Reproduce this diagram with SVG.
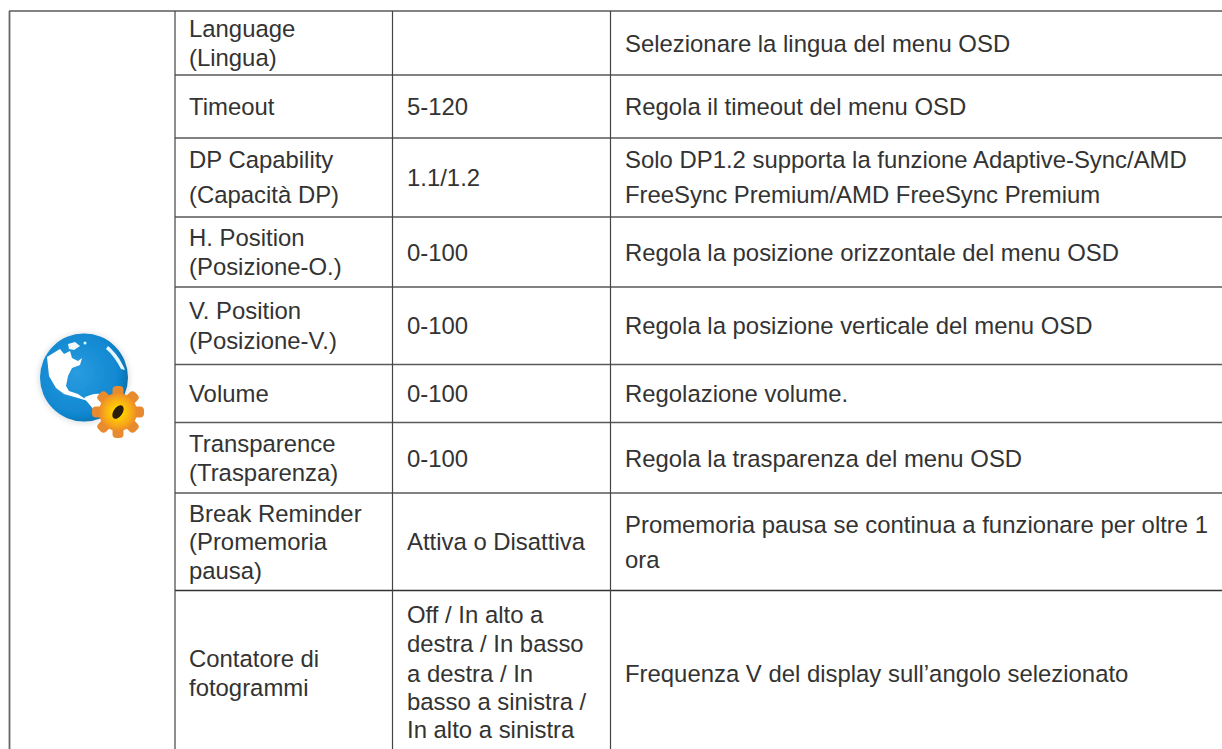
<svg xmlns="http://www.w3.org/2000/svg" width="1222" height="749" viewBox="0 0 1222 749">
<style>
text{font-family:"Liberation Sans",Arial,sans-serif;font-size:23.9px;fill:#333}
.h{stroke:#5a5a5a;stroke-width:1.4;fill:none}
.v{stroke:#444;stroke-width:1.2;fill:none}
.t{fill:#e88a2e}
</style>
<defs>
<radialGradient id="g" cx="0.42" cy="0.45" r="0.6"><stop offset="0" stop-color="#2a9ce0"/><stop offset="0.8" stop-color="#1087d0"/><stop offset="1" stop-color="#0b6ea8"/></radialGradient>
<radialGradient id="o" cx="0.5" cy="0.5" r="0.55"><stop offset="0.25" stop-color="#ffd000"/><stop offset="0.65" stop-color="#f7a81a"/><stop offset="1" stop-color="#e9822a"/></radialGradient>
<filter id="b" x="-10%" y="-10%" width="120%" height="120%"><feGaussianBlur stdDeviation="0.7"/></filter>
<filter id="s" x="-20%" y="-20%" width="140%" height="140%"><feGaussianBlur stdDeviation="2.500"/></filter>
</defs>
<rect width="1222" height="749" fill="#fff"/>
<g id="grid">
<path class="h" d="M9 11H1222"/><path class="h" d="M175 75H1222M175 138H1222M175 217H1222M175 287H1222M175 364.5H1222M175 422.5H1222M175 493H1222"/>
<path d="M175 590.500H1222" stroke="#333" stroke-width="1.300" fill="none"/>
<path d="M9.500 11V749" stroke="#666" stroke-width="1.800" fill="none"/>
<path class="v" d="M175 11V749M392.500 11V749M610.500 11V749"/>
</g>
<g id="icon">
<circle cx="84" cy="378" r="46" fill="#c9ccd0" opacity="0.5" filter="url(#s)"/>
<g filter="url(#b)">
<circle cx="84" cy="377.500" r="44" fill="url(#g)"/>
<path d="M47 357 55 352 60 349 64 354 70 351 72 358 78 361 82 358 80 365 72 368 68 376 66 386 69 391 78 394 88 401 78 398 64 394 56 388 49 376Z" fill="#fff"/>
<path d="M68 344 75 342 80 346 74 350 69 349Z" fill="#f0f8fd"/>
<path d="M84 398C90 394 100 392 106 396L104 412 94 410Z" fill="#fff"/>
<path d="M108 346C115 352 121 360 125 370L121 369C117 361 112 354 106 349Z" fill="#eaf6fd"/>
<circle cx="85" cy="343" r="1.500" fill="#dff"/>
<g transform="translate(118 412)">
<g class="t"><rect x="-5.500" y="-26" width="11" height="14" rx="4"/><rect x="-5.500" y="-26" width="11" height="14" rx="4" transform="rotate(45)"/><rect x="-5.500" y="-26" width="11" height="14" rx="4" transform="rotate(90)"/><rect x="-5.500" y="-26" width="11" height="14" rx="4" transform="rotate(135)"/><rect x="-5.500" y="-26" width="11" height="14" rx="4" transform="rotate(180)"/><rect x="-5.500" y="-26" width="11" height="14" rx="4" transform="rotate(225)"/><rect x="-5.500" y="-26" width="11" height="14" rx="4" transform="rotate(270)"/><rect x="-5.500" y="-26" width="11" height="14" rx="4" transform="rotate(315)"/></g>
<circle r="19" fill="url(#o)"/>
<ellipse rx="4.500" ry="7.500" transform="rotate(35)" fill="#2a1a08"/>
</g>
</g>
</g>
<g id="col-setting">
<text x="189" y="37">Language</text><text x="189" y="66">(Lingua)</text>
<text x="189" y="115">Timeout</text>
<text x="189" y="168">DP Capability</text><text x="189" y="203">(Capacità DP)</text>
<text x="189" y="246">H. Position</text><text x="189" y="275">(Posizione-O.)</text>
<text x="189" y="319">V. Position</text><text x="189" y="349">(Posizione-V.)</text>
<text x="189" y="402">Volume</text>
<text x="189" y="452">Transparence</text><text x="189" y="481">(Trasparenza)</text>
<text x="189" y="522">Break Reminder</text><text x="189" y="550">(Promemoria</text><text x="189" y="579">pausa)</text>
<text x="189" y="667">Contatore di</text><text x="189" y="696">fotogrammi</text>
</g>
<g id="col-range">
<text x="407" y="115">5-120</text>
<text x="407" y="186">1.1/1.2</text>
<text x="407" y="261">0-100</text>
<text x="407" y="334">0-100</text>
<text x="407" y="402">0-100</text>
<text x="407" y="467">0-100</text>
<text x="407" y="550">Attiva o Disattiva</text>
<text x="407" y="623">Off / In alto a</text><text x="407" y="652">destra / In basso</text><text x="407" y="682">a destra / In</text><text x="407" y="710">basso a sinistra /</text><text x="407" y="738">In alto a sinistra</text>
</g>
<g id="col-desc">
<text x="625" y="52">Selezionare la lingua del menu OSD</text>
<text x="625" y="115">Regola il timeout del menu OSD</text>
<text x="625" y="168">Solo DP1.2 supporta la funzione Adaptive-Sync/AMD</text>
<text x="625" y="203">FreeSync Premium/AMD FreeSync Premium</text>
<text x="625" y="261">Regola la posizione orizzontale del menu OSD</text>
<text x="625" y="334">Regola la posizione verticale del menu OSD</text>
<text x="625" y="402">Regolazione volume.</text>
<text x="625" y="467">Regola la trasparenza del menu OSD</text>
<text x="625" y="533">Promemoria pausa se continua a funzionare per oltre 1</text>
<text x="625" y="568">ora</text>
<text x="625" y="682">Frequenza V del display sull’angolo selezionato</text>
</g>
</svg>
